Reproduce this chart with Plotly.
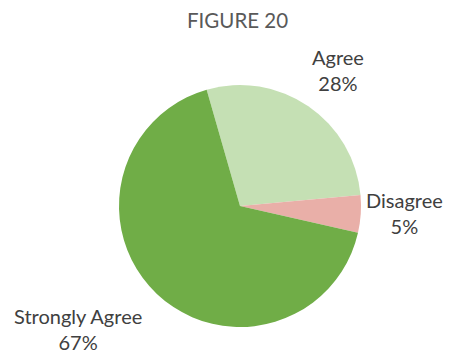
import plotly.graph_objects as go

# Survey responses
categories = ["Agree", "Disagree", "Strongly Agree"]
shares = [28, 5, 67]
colors = ["#C5E0B4", "#E9AFA8", "#70AD47"]

W, H = 454, 355
cx, cy, r = 240, 206, 121  # pie centre and radius in px

fig = go.Figure(
    go.Pie(
        labels=categories,
        values=shares,
        sort=False,
        direction="clockwise",
        rotation=-16,
        marker=dict(colors=colors, line=dict(width=0)),
        textinfo="none",
        hoverinfo="label+percent",
        domain=dict(
            x=[(cx - r) / W, (cx + r) / W],
            y=[(H - cy - r) / H, (H - cy + r) / H],
        ),
    )
)

# outside labels (category + share)
label_pos = {
    "Agree": (338, 70),
    "Disagree": (404, 213),
    "Strongly Agree": (78, 329),
}
for cat, val in zip(categories, shares):
    x, y = label_pos[cat]
    fig.add_annotation(
        x=x / W, y=1 - y / H, xref="paper", yref="paper",
        text=f"{cat}<br>{val}%", showarrow=False,
        xanchor="center", yanchor="middle", align="center",
        font=dict(family="Lato, Open Sans, sans-serif", size=20, color="#404040"),
    )

fig.add_annotation(
    x=238 / W, y=1 - 20 / H, xref="paper", yref="paper",
    text="FIGURE 20", showarrow=False, xanchor="center", yanchor="middle",
    font=dict(family="Lato, Open Sans, sans-serif", size=20.5, color="#595959"),
)

fig.update_layout(
    width=W, height=H,
    margin=dict(l=0, r=0, t=0, b=0),
    showlegend=False,
    paper_bgcolor="white",
    plot_bgcolor="white",
)

fig.write_html("out.html")
